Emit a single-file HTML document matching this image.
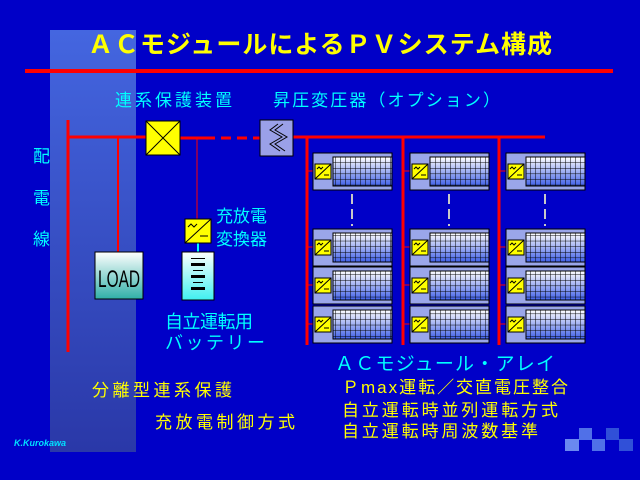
<!DOCTYPE html>
<html><head><meta charset="utf-8"><style>
html,body{margin:0;padding:0;background:#0000c8;width:640px;height:480px;overflow:hidden}
svg{display:block}
text{font-family:"Liberation Sans","Noto Sans CJK JP",sans-serif}
</style></head><body>
<svg id="s" width="640" height="480" xmlns="http://www.w3.org/2000/svg">
<defs>
<linearGradient id="band" x1="0" y1="0" x2="0" y2="1"><stop offset="0" stop-color="#4466e0"/><stop offset="1" stop-color="#2a38a8"/></linearGradient>
<linearGradient id="load" x1="0" y1="0" x2="0" y2="1"><stop offset="0" stop-color="#ffffff"/><stop offset="1" stop-color="#30b0a8"/></linearGradient>
<linearGradient id="bat" x1="0" y1="0" x2="0" y2="1"><stop offset="0" stop-color="#ffffff"/><stop offset="1" stop-color="#40f0f0"/></linearGradient>
<linearGradient id="grid" x1="0" y1="0" x2="0" y2="1"><stop offset="0" stop-color="#ffffff"/><stop offset="1" stop-color="#4060e8"/></linearGradient>
<pattern id="cells" width="5" height="5.6" patternUnits="userSpaceOnUse"><path d="M0 0H5M0 0V5.6" fill="none" stroke="#000" stroke-width="1"/></pattern>
</defs>
<rect x="50" y="30" width="86" height="422" fill="url(#band)"/>
<text x="88" y="53" font-size="25" font-weight="bold" fill="#ffff00" textLength="464">ＡＣモジュールによるＰＶシステム構成</text>
<rect x="25" y="69" width="588" height="4" fill="#ff0000"/>
<g fill="#00ffff" font-size="17">
<text x="115" y="106" textLength="117">連系保護装置</text>
<text x="273" y="106" textLength="227">昇圧変圧器（オプション）</text>
<text x="33" y="162">配</text><text x="33" y="204">電</text><text x="33" y="245">線</text>
<text x="216" y="222">充放電</text><text x="216" y="245">変換器</text>
<text x="165" y="328" font-size="18" textLength="88">自立運転用</text>
<text x="165" y="349" font-size="18" textLength="100">バッテリー</text>
<text x="335" y="370" font-size="19" textLength="220">ＡＣモジュール・アレイ</text>
</g>
<g fill="#ffff00" font-size="17">
<text x="342" y="393" textLength="226">Ｐmax運転／交直電圧整合</text>
<text x="342" y="416" textLength="216">自立運転時並列運転方式</text>
<text x="342" y="437" textLength="196">自立運転時周波数基準</text>
<text x="92" y="396" textLength="140">分離型連系保護</text>
<text x="155" y="428" textLength="140">充放電制御方式</text>
</g>
<text x="14" y="446" font-size="9" font-style="italic" font-weight="bold" fill="#00e0ff" font-family="Liberation Serif,serif">K.Kurokawa</text>
<g stroke="#ff0000" stroke-width="3" fill="none">
<line x1="68" y1="120" x2="68" y2="352"/>
<line x1="68" y1="137" x2="146" y2="137"/>
<line x1="180" y1="138" x2="205" y2="138"/>
<line x1="205" y1="138" x2="260" y2="138" stroke-dasharray="10,6"/>
<line x1="293" y1="137" x2="545" y2="137"/>
<line x1="307" y1="137" x2="307" y2="345"/>
<line x1="403" y1="137" x2="403" y2="345"/>
<line x1="499" y1="137" x2="499" y2="345"/>
<line x1="118" y1="137" x2="118" y2="252" stroke-width="2"/>
</g>
<line x1="197" y1="138" x2="197" y2="220" stroke="#ff0000" stroke-width="1"/>
<rect x="146" y="121" width="34" height="34" fill="#ffff00" stroke="#000"/>
<path d="M146 121L180 155M180 121L146 155" stroke="#000"/>
<rect x="260" y="120" width="33" height="36" fill="#9aa0e8" stroke="#000"/>
<path d="M278 124L270 130L282 137L270 144L280 151M283 124L275 130L287 137L275 144L285 151" stroke="#000" fill="none"/>
<rect x="95" y="252" width="48" height="47" fill="url(#load)" stroke="#000"/>
<text x="98" y="287" font-size="24" fill="#000" textLength="42" lengthAdjust="spacingAndGlyphs">LOAD</text>
<rect x="197" y="243" width="2" height="10" fill="#00ffff"/>
<rect x="185" y="219" width="26" height="24" fill="#ffff00" stroke="#000"/>
<path d="M185 243L211 219M188 227l3-3 3 3 3-3M200 236h8" stroke="#000" fill="none"/>
<rect x="182" y="252" width="32" height="48" fill="url(#bat)" stroke="#000"/>
<g fill="#000"><rect x="191" y="258" width="14" height="1"/><rect x="191" y="263" width="14" height="3"/><rect x="193" y="270" width="10" height="1"/><rect x="191" y="275" width="14" height="3"/><rect x="193" y="282" width="10" height="1"/><rect x="191" y="287" width="14" height="3"/></g>
<g id="mods"></g>
<g fill="#5070e8"><rect x="579" y="428" width="13" height="12"/><rect x="606" y="428" width="13" height="12" fill="#3050d8"/><rect x="565" y="439" width="14" height="12" fill="#6a88f0"/><rect x="592" y="439" width="13" height="12"/><rect x="619" y="439" width="14" height="12" fill="#3050d8"/></g>
</svg>
<script>
var g=document.getElementById('mods'),h='';
var cols=[[307,313],[403,410],[499,506]],rows=[153,229,267,306];
cols.forEach(function(c){
 rows.forEach(function(y){
  var x=c[1];
  h+='<line x1="'+c[0]+'" y1="'+(y+18)+'" x2="'+(x+3)+'" y2="'+(y+18)+'" stroke="#ff0000" stroke-width="1"/>';
  h+='<rect x="'+x+'" y="'+y+'" width="79" height="37" fill="#9aa6ea" stroke="#000"/>';
  h+='<rect x="'+(x+20)+'" y="'+(y+4)+'" width="59" height="29" fill="url(#grid)"/>';
  h+='<rect x="'+(x+20)+'" y="'+(y+4)+'" width="59" height="29" fill="url(#cells)" stroke="#000"/>';
  h+='<rect x="'+(x+2)+'" y="'+(y+11)+'" width="16" height="15" fill="#ffff00" stroke="#000"/>';
  h+='<path d="M'+(x+2)+' '+(y+26)+'L'+(x+18)+' '+(y+11)+'M'+(x+4)+' '+(y+16)+'l2-2 2 2 2-2M'+(x+11)+' '+(y+22)+'h5" stroke="#000" fill="none"/>';
 });
 var dx=c[1]+38;
 h+='<g fill="#c8c8c8"><rect x="'+dx+'" y="194" width="2" height="10"/><rect x="'+dx+'" y="209" width="2" height="10"/><rect x="'+dx+'" y="224" width="2" height="2"/></g>';
});
g.innerHTML=h;
</script>
</body></html>
